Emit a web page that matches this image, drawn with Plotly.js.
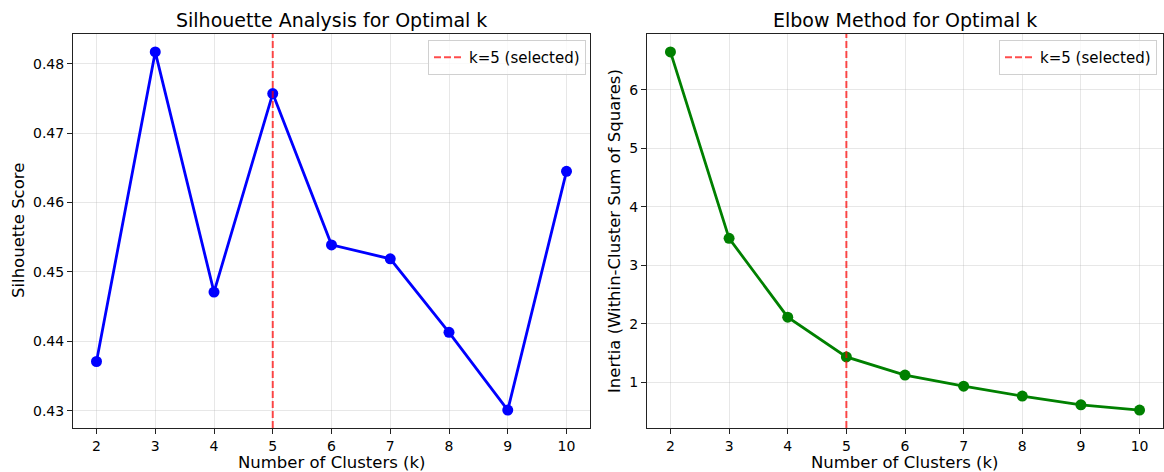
<!DOCTYPE html>
<html>
<head>
<meta charset="utf-8">
<script src="https://cdn.plot.ly/plotly-3.0.1.min.js"></script>
<style>html,body{margin:0;padding:0;background:#fff;}#chart{width:1164px;height:472px;}</style>
</head>
<body>
<div id="chart"></div>
<script>
const kValues = [2, 3, 4, 5, 6, 7, 8, 9, 10];
const silhouetteScores = [0.4371, 0.4817, 0.4471, 0.4757, 0.4539, 0.4519, 0.4413, 0.4301, 0.4645];
const inertiaValues = [6.65, 3.46, 2.11, 1.43, 1.12, 0.93, 0.76, 0.61, 0.52];
const selectedK = 5;
const selectedLabel = 'k=5 (selected)';
const leftTitle = 'Silhouette Analysis for Optimal k';
const rightTitle = 'Elbow Method for Optimal k';
const xLabel = 'Number of Clusters (k)';
const leftYLabel = 'Silhouette Score';
const rightYLabel = 'Inertia (Within-Cluster Sum of Squares)';

function padRange(arr) {
  const mn = Math.min(...arr), mx = Math.max(...arr);
  const p = (mx - mn) * 0.05;
  return [mn - p, mx + p];
}
const xr = padRange(kValues);
const y1r = padRange(silhouetteScores);
const y2r = padRange(inertiaValues);

const FONT = 'DejaVu Sans, sans-serif';
const W = 1164, H = 472;
const px = v => v / W;
const py = v => 1 - v / H;

const traces = [
  {x: kValues, y: silhouetteScores, xaxis: 'x', yaxis: 'y', mode: 'lines+markers',
   line: {color: '#0000ff', width: 2.8}, marker: {color: '#0000ff', size: 11}, showlegend: false, hoverinfo: 'x+y'},
  {x: [selectedK, selectedK], y: y1r, xaxis: 'x', yaxis: 'y', mode: 'lines', name: selectedLabel,
   line: {color: 'rgba(255,0,0,0.7)', width: 2, dash: '7px,3px'}, legend: 'legend'},
  {x: kValues, y: inertiaValues, xaxis: 'x2', yaxis: 'y2', mode: 'lines+markers',
   line: {color: '#008000', width: 2.8}, marker: {color: '#008000', size: 11}, showlegend: false, hoverinfo: 'x+y'},
  {x: [selectedK, selectedK], y: y2r, xaxis: 'x2', yaxis: 'y2', mode: 'lines', name: selectedLabel,
   line: {color: 'rgba(255,0,0,0.7)', width: 2, dash: '7px,3px'}, legend: 'legend2'}
];

const axBase = {
  showline: true, mirror: true, linecolor: '#222', linewidth: 1,
  ticks: 'outside', ticklen: 5, tickcolor: '#222', tickwidth: 1,
  showgrid: true, gridcolor: 'rgba(176,176,176,0.3)', gridwidth: 1,
  zeroline: false, tickfont: {family: FONT, size: 14, color: '#000'}
};

const legBase = {
  bgcolor: 'rgba(255,255,255,0.8)', bordercolor: '#d0d0d0', borderwidth: 1,
  font: {family: FONT, size: 15, color: '#000'}, xanchor: 'right', yanchor: 'top',
  itemwidth: 30
};

const layout = {
  width: W, height: H,
  margin: {l: 0, r: 0, t: 0, b: 0},
  paper_bgcolor: '#fff', plot_bgcolor: '#fff',
  xaxis: Object.assign({}, axBase, {domain: [px(73), px(590)], range: xr, dtick: 1, tick0: 0, anchor: 'y'}),
  yaxis: Object.assign({}, axBase, {domain: [py(428), py(34)], range: y1r, dtick: 0.01, tick0: 0, tickformat: '.2f', anchor: 'x'}),
  xaxis2: Object.assign({}, axBase, {domain: [px(647), px(1163)], range: xr, dtick: 1, tick0: 0, anchor: 'y2'}),
  yaxis2: Object.assign({}, axBase, {domain: [py(428), py(34)], range: y2r, dtick: 1, tick0: 0, anchor: 'x2'}),
  legend: Object.assign({}, legBase, {x: px(586), y: py(40)}),
  legend2: Object.assign({}, legBase, {x: px(1157), y: py(40)}),
  annotations: [
    {text: leftTitle, xref: 'paper', yref: 'paper', x: px(331.5), y: py(20), showarrow: false,
     font: {family: FONT, size: 19, color: '#000'}, xanchor: 'center', yanchor: 'middle'},
    {text: rightTitle, xref: 'paper', yref: 'paper', x: px(905), y: py(20), showarrow: false,
     font: {family: FONT, size: 19, color: '#000'}, xanchor: 'center', yanchor: 'middle'},
    {text: xLabel, xref: 'paper', yref: 'paper', x: px(331.5), y: py(462), showarrow: false, borderpad: 0,
     font: {family: FONT, size: 16.5, color: '#000'}, xanchor: 'center', yanchor: 'middle'},
    {text: xLabel, xref: 'paper', yref: 'paper', x: px(905), y: py(462), showarrow: false, borderpad: 0,
     font: {family: FONT, size: 16.5, color: '#000'}, xanchor: 'center', yanchor: 'middle'},
    {text: leftYLabel, xref: 'paper', yref: 'paper', x: px(19), y: py(231), showarrow: false, textangle: -90,
     font: {family: FONT, size: 16.5, color: '#000'}, xanchor: 'center', yanchor: 'middle'},
    {text: rightYLabel, xref: 'paper', yref: 'paper', x: px(615), y: py(231), showarrow: false, textangle: -90,
     font: {family: FONT, size: 16.5, color: '#000'}, xanchor: 'center', yanchor: 'middle'}
  ]
};

Plotly.newPlot('chart', traces, layout, {displayModeBar: false, staticPlot: true});
</script>
</body>
</html>
